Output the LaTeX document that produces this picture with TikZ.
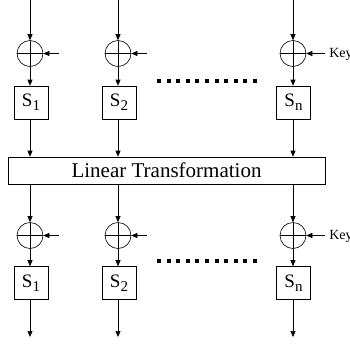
\documentclass[tikz,border=0pt]{standalone}
\usepackage{fontspec}
\setmainfont{Liberation Serif}
\usetikzlibrary{arrows.meta}

% lowered index of an S-box name
\newcommand{\sidx}[1]{\raisebox{-4pt}{\fontsize{15}{17}\selectfont #1}}

\tikzset{
  xorgate/.style={draw, circle, minimum size=26pt, inner sep=0pt,
    path picture={\draw (path picture bounding box.north) -- (path picture bounding box.south)
      (path picture bounding box.west) -- (path picture bounding box.east);}},
  sbox/.style={draw, minimum width=34pt, minimum height=33pt, inner sep=0pt,
    font=\fontsize{19}{21}\selectfont},
  flow/.style={-{Triangle[width=5pt,length=6pt]}},
  keylabel/.style={anchor=west, inner sep=0pt, font=\fontsize{14}{16}\selectfont},
}

\begin{document}
\begin{tikzpicture}[x=1pt, y=-1pt, line width=0.6pt]
    \useasboundingbox (0,0) rectangle (350,343);
    % Inputs and outputs of the three columns
    \coordinate (in a) at (30,0);
    \coordinate (in b) at (118,0);
    \coordinate (in n) at (293,0);
    \coordinate (out a) at (30,337);
    \coordinate (out b) at (118,337);
    \coordinate (out n) at (293,337);

    % First round
    \node[xorgate] (xor a top) at (30,53.5) {};
    \node[xorgate] (xor b top) at (118,53.5) {};
    \node[xorgate] (xor n top) at (293,53.5) {};
    \node[sbox] (s a top) at (31,102.5) {S\sidx{1}};
    \node[sbox] (s b top) at (119,102.5) {S\sidx{2}};
    \node[sbox] (s n top) at (293.5,102.5) {S\sidx{n}};

    % Linear layer
    \node[draw, minimum width=317pt, minimum height=27pt, inner sep=0pt,
      font=\fontsize{21}{24}\selectfont] (lt) at (166.5,170.5) {Linear Transformation};

    % Second round
    \node[xorgate] (xor a bot) at (30,235.5) {};
    \node[xorgate] (xor b bot) at (118,235.5) {};
    \node[xorgate] (xor n bot) at (293,235.5) {};
    \node[sbox] (s a bot) at (31,283) {S\sidx{1}};
    \node[sbox] (s b bot) at (119,283) {S\sidx{2}};
    \node[sbox] (s n bot) at (293.5,283) {S\sidx{n}};

    % Key inputs
    \node[keylabel] (key top) at (329,54.5) {Key};
    \node[keylabel] (key bot) at (329,236.5) {Key};
    \draw[flow] ([xshift=16pt]xor a top.east) -- (xor a top);
    \draw[flow] ([xshift=16pt]xor b top.east) -- (xor b top);
    \draw[flow] ([xshift=-4pt]key top.west |- xor n top) -- (xor n top);
    \draw[flow] ([xshift=16pt]xor a bot.east) -- (xor a bot);
    \draw[flow] ([xshift=16pt]xor b bot.east) -- (xor b bot);
    \draw[flow] ([xshift=-4pt]key bot.west |- xor n bot) -- (xor n bot);

    % Data paths
    \foreach \c in {a,b,n} {
        \draw[flow] (in \c) -- (xor \c\space top);
        \draw[flow] (xor \c\space top) -- (xor \c\space top |- s \c\space top.north);
        \draw[flow] (xor \c\space top |- s \c\space top.south) -- (xor \c\space top |- lt.north);
        \draw[flow] (xor \c\space bot |- lt.south) -- (xor \c\space bot);
        \draw[flow] (xor \c\space bot) -- (xor \c\space bot |- s \c\space bot.north);
        \draw[flow] (xor \c\space bot |- s \c\space bot.south) -- (out \c);
    }

    % Dots between the columns
    \foreach \k in {0,...,10} {
        \fill ({157+9.6*\k},78.5) rectangle +(4,4);
        \fill ({157+9.6*\k},258.5) rectangle +(4,4);
    }
\end{tikzpicture}
\end{document}
